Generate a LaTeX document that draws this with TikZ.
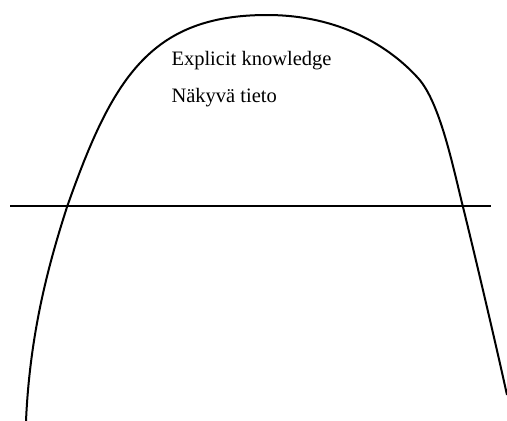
\documentclass[tikz,border=0pt]{standalone}
\usepackage{fontspec}
\setmainfont{Liberation Serif}
\usetikzlibrary{positioning}

\begin{document}
\begin{tikzpicture}[x=1pt, y=-1pt, line width=2pt]
      \useasboundingbox (0,0) rectangle (507,421);
      \draw[line join=round] (26,421) .. controls (30,330) and (50,260) .. (67,207)
        .. controls (112,79) and (150,15) .. (267,15)
        .. controls (340,15) and (390,47) .. (418,78)
        .. controls (440,102) and (453,167) .. (463,207)
        .. controls (471,239) and (495,340) .. (507,395);
      \draw (10,206) -- (491,206);
      \node[font=\fontsize{20.5}{24}\selectfont, anchor=base west, inner sep=0pt] (explicit) at (170.5,65) {Explicit knowledge};
      \node[font=\fontsize{20.5}{24}\selectfont, anchor=base west, inner sep=0pt] (nakyva) at (170.5,102) {Näkyvä tieto};
    \end{tikzpicture}
\end{document}
